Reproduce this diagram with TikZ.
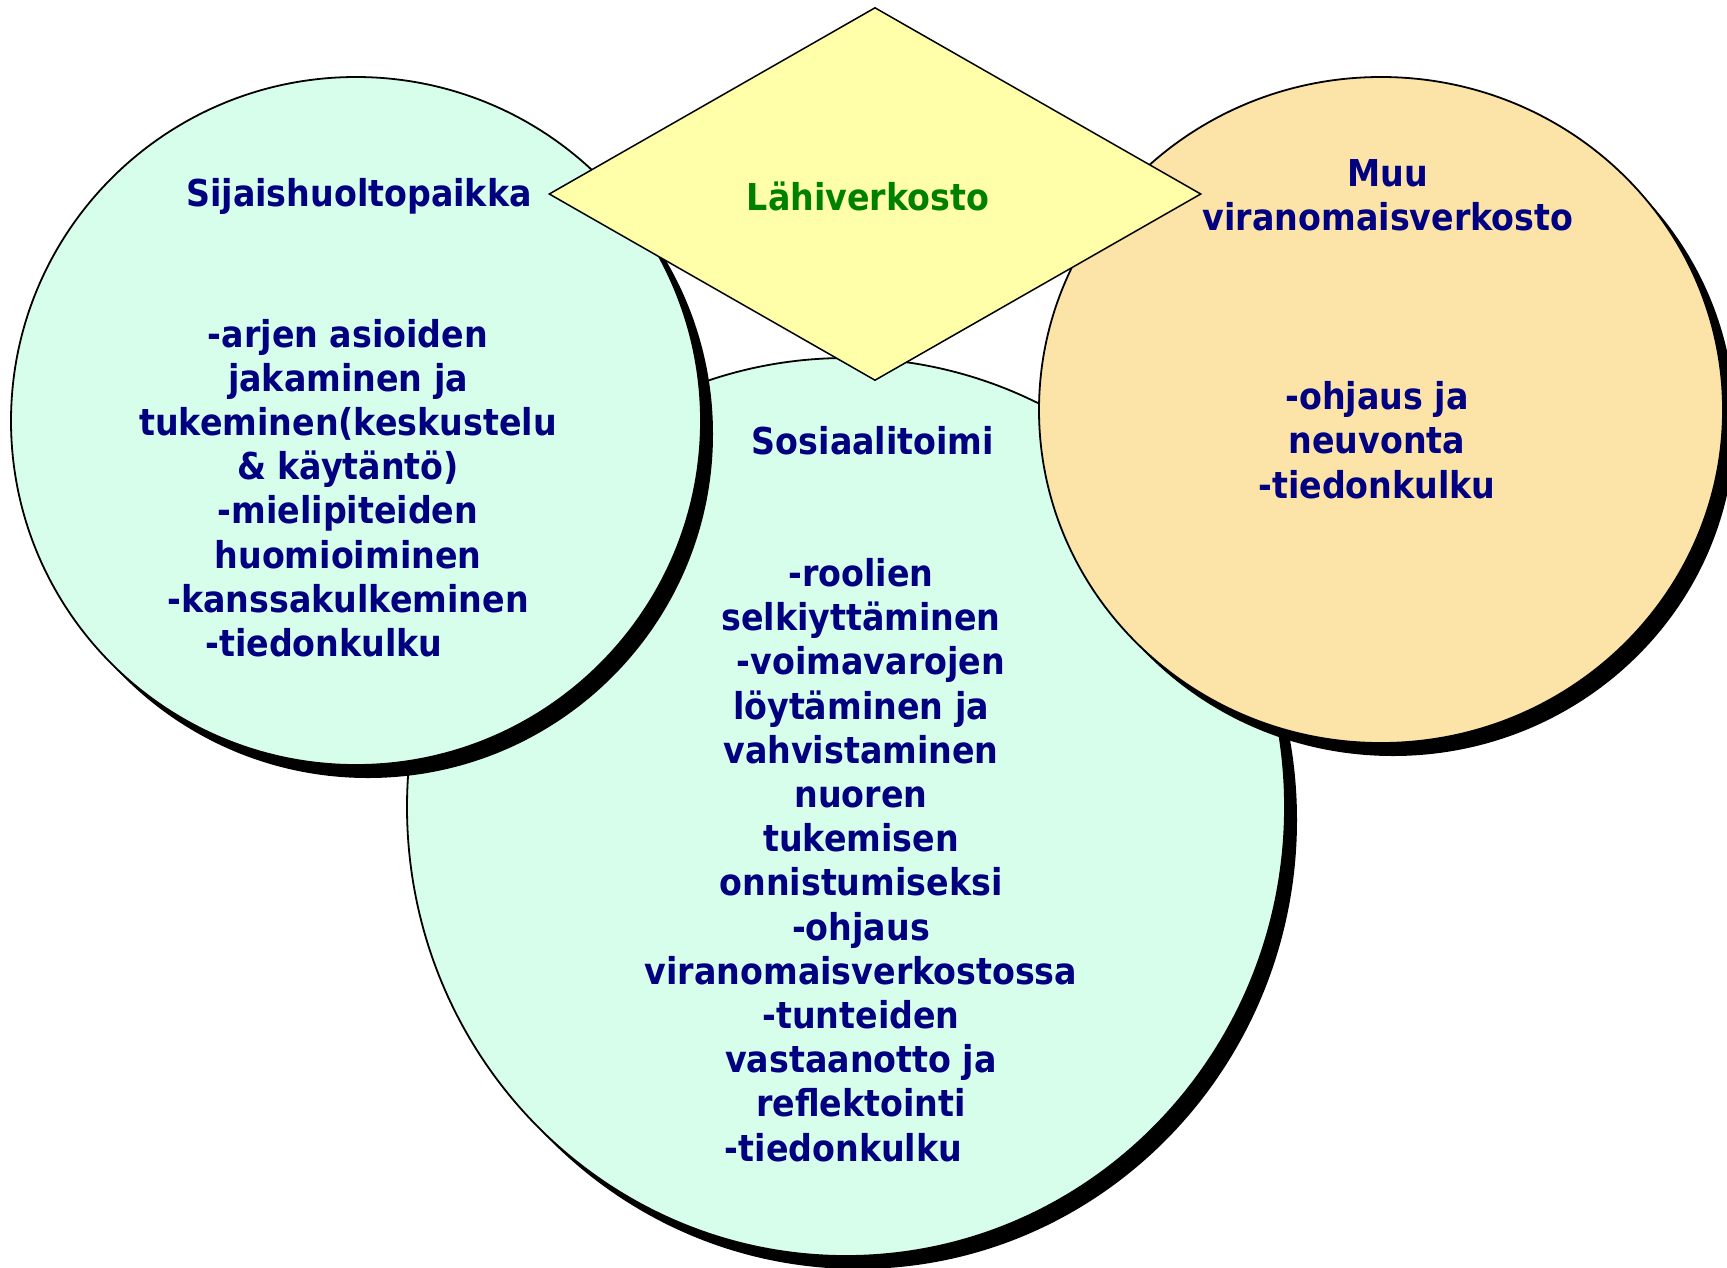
\documentclass[tikz,border=0pt]{standalone}
\usepackage{fontspec}
\setmainfont{DejaVu Sans Condensed}
\usetikzlibrary{shapes.geometric,shadows}
\definecolor{mint}{RGB}{215,254,234}
\definecolor{peach}{RGB}{252,228,168}
\definecolor{paleyellow}{RGB}{255,255,170}
\definecolor{navytext}{RGB}{0,0,128}
\definecolor{greentext}{RGB}{0,128,0}
\begin{document}
\begin{tikzpicture}[x=1pt,y=-1pt,
  bubble/.style={ellipse, draw=black, line width=1.8pt, inner sep=0pt,
    drop shadow={shadow xshift=12pt, shadow yshift=-13pt, fill=black, opacity=1}},
  txt/.style={text=navytext, font=\fontsize{37}{44.2}\selectfont\bfseries, align=center, inner sep=0pt}]
\useasboundingbox (0,0) rectangle (1727,1267);
% middle circle
\node[bubble, fill=mint, minimum width=878pt, minimum height=898pt] (mid) at (846,807) {};
% left circle
\node[bubble, fill=mint, minimum width=690pt, minimum height=688pt] (left) at (356,421) {};
% right circle
\node[bubble, fill=peach, minimum width=684pt, minimum height=666pt] (right) at (1381,410) {};
% diamond
\node[diamond, draw=black, line width=1.5pt, fill=paleyellow, inner sep=0pt,
  minimum width=652pt, minimum height=373pt] (lahi) at (875,194) {};
\node[txt, text=greentext] (lahitxt) at (868,196) {Lähiverkosto};
% texts
\node[txt] (sijt) at (359,196) {Sijaishuoltopaikka};
\node[txt] (sijb) at (348,488) {-arjen asioiden\\jakaminen ja\\tukeminen(keskustelu\\\& käytäntö)\\-mielipiteiden\\huomioiminen\\-kanssakulkeminen\\-tiedonkulku\hspace*{48pt}};
\node[txt] (muut) at (1388,195) {Muu\\viranomaisverkosto};
\node[txt] (muub) at (1377,440) {-ohjaus ja\\neuvonta\\-tiedonkulku};
\node[txt] (sost) at (873,441) {Sosiaalitoimi};
\node[txt] (sosb) at (861,860) {-roolien\\selkiyttäminen\\\hspace*{20pt}-voimavarojen\\löytäminen ja\\vahvistaminen\\nuoren\\tukemisen\\onnistumiseksi\\-ohjaus\\viranomaisverkostossa\\-tunteiden\\vastaanotto ja\\reflektointi\\-tiedonkulku\hspace*{35pt}};
\end{tikzpicture}
\end{document}
